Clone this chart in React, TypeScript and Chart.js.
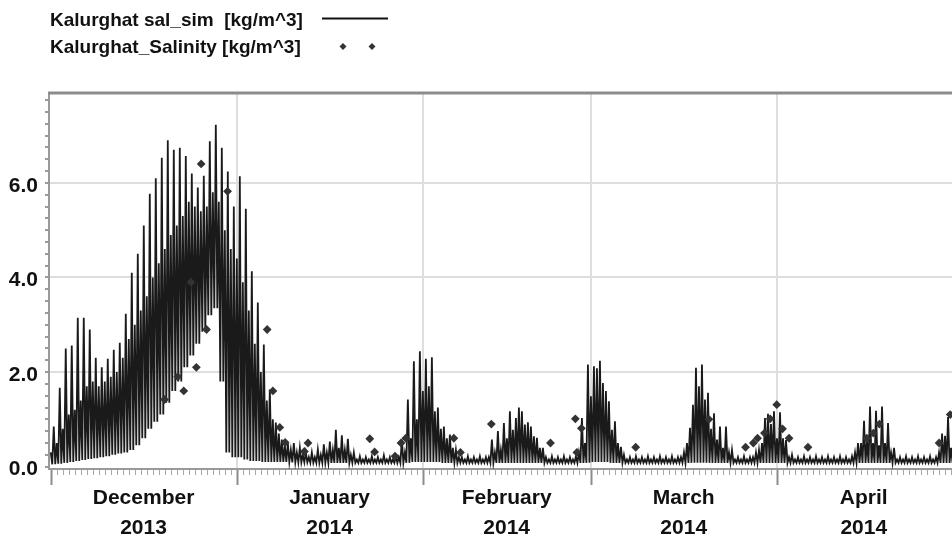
import React, { useEffect, useRef } from 'react';
import { Chart, registerables } from 'chart.js';

Chart.register(...registerables);

// ---- axis content ----
const monthLabels: string[][] = [
  ['December', '2013'],
  ['January', '2014'],
  ['February', '2014'],
  ['March', '2014'],
  ['April', '2014'],
];
// day offsets counted from 1 December 2013
const monthStartDays = [0, 31, 62, 90, 121];
const monthMidDays = [15.5, 46.5, 76, 105.5, 135.5];
const yLabelValues = [0, 2, 4, 6];
const yMinorStep = 0.25;
// hours within each day at which the tidal series turns (second high, low, main high, low)
const tideHours = [1, 7, 13, 19];

// ---- simulated salinity (kg/m^3), one entry per day from 1 Dec 2013 to 30 Apr 2014 ----
const simPeak = [
  // December
  0.85, 1.67, 2.5, 2.56, 3.15, 3.15, 2.9, 2.3, 2.1, 2.28, 2.47, 2.62, 3.23, 4.1, 4.5, 5.1,
  5.77, 6.1, 6.53, 6.9, 6.7, 6.74, 6.57, 6.2, 5.9, 6.15, 6.88, 7.23, 6.74, 6.24, 5.5,
  // January
  6.14, 5.45, 4.13, 3.47, 2.58, 1.63, 0.93, 0.57, 0.5, 0.5, 0.4, 0.3, 0.3, 0.36, 0.47, 0.53,
  0.78, 0.66, 0.59, 0.3, 0.22, 0.2, 0.22, 0.2, 0.24, 0.2, 0.22, 0.57, 1.42, 2.23, 2.44,
  // February
  2.28, 2.31, 1.25, 0.85, 0.68, 0.35, 0.2, 0.22, 0.2, 0.22, 0.2, 0.57, 0.75, 0.92, 1.17, 1.03,
  1.17, 0.94, 0.64, 0.4, 0.2, 0.22, 0.2, 0.22, 0.2, 0.22, 1.03, 2.16,
  // March
  2.12, 2.24, 1.6, 0.78, 0.5, 0.25, 0.2, 0.22, 0.2, 0.22, 0.2, 0.22, 0.2, 0.22, 0.2, 0.3,
  0.82, 2.09, 2.16, 1.56, 1.13, 0.85, 0.85, 0.35, 0.2, 0.22, 0.2, 0.3, 0.5, 1.12, 1.17,
  // April
  1.15, 0.56, 0.25, 0.2, 0.22, 0.2, 0.22, 0.2, 0.22, 0.2, 0.22, 0.2, 0.22, 0.5, 0.97, 1.27,
  1.18, 1.27, 0.92, 0.4, 0.2, 0.22, 0.2, 0.22, 0.2, 0.22, 0.2, 0.7, 1.05, 0.5,
];

const simSecond = [
  // December
  0.3, 0.5, 0.8, 1.1, 1.2, 1.4, 1.7, 1.8, 1.7, 1.8, 1.9, 2.0, 2.3, 2.7, 3.0, 3.3,
  3.6, 4.0, 4.3, 4.6, 4.9, 5.1, 5.3, 5.6, 5.5, 5.4, 5.5, 5.8, 5.6, 5.0, 4.6,
  // January
  4.4, 3.9, 3.3, 2.6, 2.0, 1.4, 1.0, 0.7, 0.45, 0.35, 0.3, 0.25, 0.2, 0.2, 0.25, 0.3,
  0.35, 0.4, 0.35, 0.25, 0.15, 0.15, 0.15, 0.15, 0.15, 0.15, 0.15, 0.2, 0.3, 0.6, 1.0,
  // February
  1.6, 1.7, 1.17, 0.8, 0.6, 0.4, 0.2, 0.15, 0.15, 0.15, 0.15, 0.2, 0.3, 0.35, 0.6, 0.78,
  1.25, 0.89, 0.85, 0.61, 0.4, 0.15, 0.15, 0.15, 0.15, 0.15, 0.3, 0.5,
  // March
  1.49, 2.08, 1.77, 1.38, 0.96, 0.42, 0.15, 0.15, 0.15, 0.15, 0.15, 0.15, 0.15, 0.15, 0.15, 0.2,
  0.5, 1.31, 1.7, 1.42, 0.8, 0.57, 0.4, 0.3, 0.15, 0.15, 0.15, 0.2, 0.35, 1.03, 0.9,
  // April
  0.6, 0.6, 0.2, 0.15, 0.15, 0.15, 0.15, 0.15, 0.15, 0.15, 0.15, 0.15, 0.15, 0.3, 0.5, 0.54,
  0.5, 0.45, 0.5, 0.3, 0.15, 0.15, 0.15, 0.15, 0.15, 0.15, 0.15, 0.3, 0.65, 0.4,
];

const simTrough = [
  // December
  0.05, 0.06, 0.08, 0.1, 0.12, 0.14, 0.16, 0.18, 0.2, 0.22, 0.25, 0.28, 0.3, 0.35, 0.45, 0.6,
  0.8, 0.95, 1.1, 1.35, 1.6, 1.8, 2.1, 2.35, 2.6, 2.85, 3.2, 3.35, 1.8, 0.3, 0.2,
  // January
  0.2, 0.15, 0.12, 0.12, 0.1, 0.1, 0.1, 0.1, 0.1, 0.09, 0.09, 0.09, 0.08, 0.08, 0.08, 0.08,
  0.08, 0.08, 0.08, 0.08, 0.08, 0.08, 0.08, 0.08, 0.08, 0.08, 0.08, 0.08, 0.08, 0.1, 0.1,
  // February
  0.1, 0.1, 0.1, 0.08, 0.08, 0.08, 0.08, 0.08, 0.08, 0.08, 0.08, 0.08, 0.08, 0.08, 0.08, 0.08,
  0.08, 0.08, 0.08, 0.08, 0.08, 0.08, 0.08, 0.08, 0.08, 0.08, 0.08, 0.08,
  // March
  0.1, 0.1, 0.1, 0.08, 0.08, 0.08, 0.08, 0.08, 0.08, 0.08, 0.08, 0.08, 0.08, 0.08, 0.08, 0.08,
  0.08, 0.08, 0.08, 0.08, 0.08, 0.08, 0.08, 0.08, 0.08, 0.08, 0.08, 0.08, 0.08, 0.08, 0.08,
  // April
  0.08, 0.08, 0.08, 0.08, 0.08, 0.08, 0.08, 0.08, 0.08, 0.08, 0.08, 0.08, 0.08, 0.08, 0.08, 0.08,
  0.08, 0.08, 0.08, 0.08, 0.08, 0.08, 0.08, 0.08, 0.08, 0.08, 0.08, 0.08, 0.08, 0.08,
];

// ---- observed salinity (kg/m^3) ----
const obsDay = [
  19.0, 21.2, 22.2, 23.4, 24.3, 25.1, 26.0, 29.5, 36.1, 37.05, 38.2, 39.1, 42.3, 42.9,
  53.2, 54.0, 57.4, 58.4, 59.2, 67.2, 68.3, 73.45, 83.3, 87.45, 87.7, 88.45, 97.5,
  109.7, 115.8, 117.1, 117.8, 118.95, 119.9, 121.0, 121.96, 123.05, 126.2, 136.0, 137.1,
  138.1, 148.05, 149.9,
];
const obsSalinity = [
  1.42, 1.9, 1.6, 3.9, 2.1, 6.4, 2.9, 5.82, 2.9, 1.6, 0.83, 0.51, 0.32, 0.5,
  0.59, 0.31, 0.22, 0.5, 0.6, 0.6, 0.3, 0.9, 0.5, 1.01, 0.3, 0.81, 0.41,
  1.0, 0.41, 0.5, 0.6, 0.71, 1.01, 1.31, 0.8, 0.6, 0.41, 0.6, 0.71,
  0.9, 0.5, 1.1,
];

const simLabel = 'Kalurghat sal_sim  [kg/m^3]';
const obsLabel = 'Kalurghat_Salinity [kg/m^3]';

const FONT = '"Liberation Sans", Arial, Helvetica, sans-serif';

function buildSim() {
  const pts: { x: number; y: number }[] = [];
  for (let d = 0; d < simPeak.length; d++) {
    pts.push({ x: d + tideHours[0] / 24, y: simSecond[d] });
    pts.push({ x: d + tideHours[1] / 24, y: simTrough[d] });
    pts.push({ x: d + tideHours[2] / 24, y: simPeak[d] });
    pts.push({ x: d + tideHours[3] / 24, y: simTrough[d] });
  }
  return pts;
}

function buildObs() {
  return obsDay.map((d, i) => ({ x: d, y: obsSalinity[i] }));
}

const decorPlugin = {
  id: 'decor',
  afterDraw(chart: any) {
    const { ctx, chartArea } = chart;
    const xs = chart.scales.x;
    ctx.save();
    // top frame line
    ctx.strokeStyle = '#8c8c8c';
    ctx.lineWidth = 3;
    ctx.beginPath();
    ctx.moveTo(chartArea.left - 1, chartArea.top);
    ctx.lineTo(chartArea.right, chartArea.top);
    ctx.stroke();
    // daily and monthly tick marks under the x axis
    const lastDay = Math.floor(xs.max);
    for (let d = 0; d <= lastDay; d++) {
      const px = Math.round(xs.getPixelForValue(d)) + 0.5;
      if (px < chartArea.left || px > chartArea.right) continue;
      const isMonth = monthStartDays.indexOf(d) >= 0;
      ctx.strokeStyle = isMonth ? '#8c8c8c' : '#a8a8a8';
      ctx.lineWidth = isMonth ? 2 : 1;
      ctx.beginPath();
      ctx.moveTo(px, chartArea.bottom + 1);
      ctx.lineTo(px, chartArea.bottom + (isMonth ? 16 : 6));
      ctx.stroke();
    }
    // legend
    ctx.fillStyle = '#111';
    ctx.font = 'bold 19px ' + FONT;
    ctx.textBaseline = 'alphabetic';
    ctx.textAlign = 'left';
    ctx.fillText(simLabel, 50, 26);
    ctx.fillText(obsLabel, 50, 53);
    ctx.strokeStyle = '#111';
    ctx.lineWidth = 2;
    ctx.beginPath();
    ctx.moveTo(322, 18.5);
    ctx.lineTo(388, 18.5);
    ctx.stroke();
    ctx.fillStyle = '#333';
    [343, 372].forEach((cx) => {
      const cy = 46.5;
      const r = 3.5;
      ctx.beginPath();
      ctx.moveTo(cx, cy - r);
      ctx.lineTo(cx + r, cy);
      ctx.lineTo(cx, cy + r);
      ctx.lineTo(cx - r, cy);
      ctx.closePath();
      ctx.fill();
    });
    ctx.restore();
  },
};

export default function App() {
  const canvasRef = useRef<HTMLCanvasElement | null>(null);

  useEffect(() => {
    document.body.style.margin = '0';
    const canvas = canvasRef.current;
    if (!canvas) return;
    Chart.defaults.font.family = FONT;

    const chart = new Chart(canvas, {
      type: 'scatter',
      data: {
        datasets: [
          {
            label: obsLabel,
            data: buildObs(),
            pointStyle: 'rectRot',
            pointRadius: 4.4,
            pointBackgroundColor: '#333',
            pointBorderColor: '#333',
            pointBorderWidth: 0,
            showLine: false,
          },
          {
            label: simLabel,
            data: buildSim(),
            showLine: true,
            borderColor: '#1a1a1a',
            borderWidth: 1.8,
            pointRadius: 0,
            tension: 0,
          } as any,
        ],
      },
      options: {
        responsive: false,
        animation: false,
        events: [],
        layout: { autoPadding: false, padding: { top: 93, left: 0, right: 0, bottom: 0 } },
        plugins: {
          legend: { display: false },
          tooltip: { enabled: false },
          title: { display: false },
        },
        scales: {
          x: {
            type: 'linear',
            min: -0.25,
            max: 150.2,
            afterBuildTicks: (scale: any) => {
              const vals = [...monthStartDays, ...monthMidDays].sort((a, b) => a - b);
              scale.ticks = vals.map((v) => ({ value: v }));
            },
            afterFit: (scale: any) => {
              scale.height = 72;
            },
            grid: {
              drawTicks: false,
              lineWidth: 2,
              color: (c: any) =>
                c.tick && monthStartDays.indexOf(c.tick.value) > 0 ? '#dedede' : 'rgba(0,0,0,0)',
            },
            border: { display: true, color: '#999', width: 2 },
            ticks: {
              autoSkip: false,
              maxRotation: 0,
              minRotation: 0,
              padding: 14,
              color: '#111',
              font: { size: 21, weight: 'bold', lineHeight: 30 / 21 },
              callback: (value: any) => {
                const i = monthMidDays.indexOf(Number(value));
                return i >= 0 ? monthLabels[i] : '';
              },
            },
          },
          y: {
            type: 'linear',
            min: -0.05,
            max: 7.9,
            afterBuildTicks: (scale: any) => {
              const t: { value: number }[] = [];
              for (let v = 0; v <= scale.max; v += yMinorStep) t.push({ value: v });
              scale.ticks = t;
            },
            afterFit: (scale: any) => {
              scale.width = 49;
            },
            grid: {
              drawTicks: true,
              tickLength: 4,
              tickColor: '#9a9a9a',
              lineWidth: 2,
              color: (c: any) =>
                c.tick && c.tick.value > 0 && yLabelValues.indexOf(c.tick.value) >= 0
                  ? '#dedede'
                  : 'rgba(0,0,0,0)',
            },
            border: { display: true, color: '#999', width: 2 },
            ticks: {
              autoSkip: false,
              padding: 7,
              labelOffset: 3,
              color: '#111',
              font: { size: 21, weight: 'bold' },
              callback: (value: any) =>
                yLabelValues.indexOf(Number(value)) >= 0 ? Number(value).toFixed(1) : '',
            },
          },
        },
      },
      plugins: [decorPlugin],
    } as any);

    return () => chart.destroy();
  }, []);

  return (
    <div style={{ width: 952, height: 541, background: '#fff' }}>
      <canvas ref={canvasRef} width={952} height={541} style={{ display: 'block' }} />
    </div>
  );
}
